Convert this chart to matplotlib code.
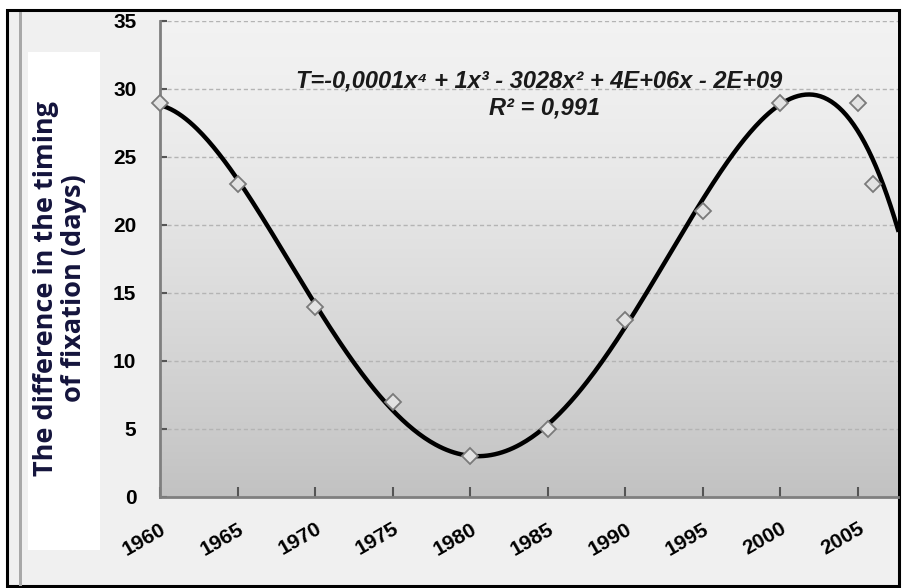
import matplotlib
matplotlib.use("Agg")
import matplotlib.pyplot as plt
import numpy as np
from matplotlib.patches import Rectangle

years = [1960, 1965, 1970, 1975, 1980, 1985, 1990, 1995, 2000, 2005, 2006]
days = [29, 23, 14, 7, 3, 5, 13, 21, 29, 29, 23]
tick_years = [1960, 1965, 1970, 1975, 1980, 1985, 1990, 1995, 2000, 2005]
y_ticks = [0, 5, 10, 15, 20, 25, 30, 35]

equation = "T=-0,0001x\u2074 + 1x\u00b3 - 3028x\u00b2 + 4E+06x - 2E+09"
r2_text = "R\u00b2 = 0,991"
y_label = "The difference in the timing\nof fixation (days)"

W, H = 903, 588
fig = plt.figure(figsize=(W / 100, H / 100), dpi=100)
fig.patch.set_facecolor("white")


def fx(px):
    return px / W


def fy(py):
    return 1 - py / H


# chart area background and frame
fig.add_artist(Rectangle((fx(7), fy(586)), fx(892), (586 - 10) / H, transform=fig.transFigure,
                         facecolor="#f0f0f0", edgecolor="black", linewidth=2.2, zorder=0))
fig.add_artist(Rectangle((fx(19), fy(586)), fx(3), (586 - 12) / H, transform=fig.transFigure,
                         facecolor="#a8a8a8", edgecolor="none", zorder=1))
# white patch behind the axis title
fig.add_artist(Rectangle((fx(28), fy(550)), fx(72), (550 - 52) / H, transform=fig.transFigure,
                         facecolor="white", edgecolor="none", zorder=1))

ax = fig.add_axes([fx(160), fy(497), fx(898 - 160), (497 - 21) / H])
ax.set_facecolor("none")

# vertical grey gradient of the plot area
t = np.linspace(0, 1, 256).reshape(-1, 1)
shade = 0.95 - 0.19 * (1 - t) ** 1.4
ax.imshow(np.dstack([shade, shade, shade]), extent=[0, 1, 0, 1], transform=ax.transAxes,
          origin="lower", aspect="auto", zorder=0)

ax.set_xlim(1960, 2007.6)
ax.set_ylim(0, 35)

for v in y_ticks[1:]:
    ax.axhline(v, color="#b4b4b4", linewidth=1.0, linestyle=(0, (3, 2)), zorder=1)

# 4th-order trend line fitted to the points
coef = np.polyfit(np.array(years) - 1960, days, 4)
xs = np.linspace(1960, 2007.6, 400)
ax.plot(xs, np.polyval(coef, xs - 1960), color="black", linewidth=3.2, zorder=3, clip_on=False)
ax.plot(years, days, linestyle="none", marker="D", markersize=8.5, markerfacecolor="#e2e2e2",
        markeredgecolor="#7a7a7a", markeredgewidth=1.3, zorder=4, clip_on=False)

for s in ["top", "right"]:
    ax.spines[s].set_visible(False)
for s in ["left", "bottom"]:
    ax.spines[s].set_color("#7f7f7f")
    ax.spines[s].set_linewidth(2.0)

ax.set_xticks(tick_years)
ax.set_xticklabels([str(y) for y in tick_years], rotation=30, ha="right", rotation_mode="anchor",
                   fontsize=15, fontweight="bold", family="Liberation Sans")
ax.set_yticks(y_ticks)
ax.set_yticklabels([str(v) for v in y_ticks], fontsize=15, fontweight="bold", family="Liberation Sans")
ax.tick_params(axis="x", direction="in", length=7, width=1.5, color="#555555", pad=16)
ax.tick_params(axis="y", direction="in", length=5, width=1.5, color="#555555", pad=17)

fig.text(fx(60), fy(288), y_label, rotation=90, ha="center", va="center", fontsize=19.5,
         fontweight="bold", color="#14143c", family="Open Sans", linespacing=1.1)

ax.text(fx(539), fy(81), equation, transform=fig.transFigure, ha="center", va="center", fontsize=17,
        fontweight="bold", style="italic", family=["Liberation Sans", "DejaVu Sans"], color="#1a1a1a")
ax.text(fx(545), fy(108), r2_text, transform=fig.transFigure, ha="center", va="center", fontsize=17,
        fontweight="bold", style="italic", family=["Liberation Sans", "DejaVu Sans"], color="#1a1a1a")

fig.savefig("out.png", dpi=100, facecolor=fig.get_facecolor())
